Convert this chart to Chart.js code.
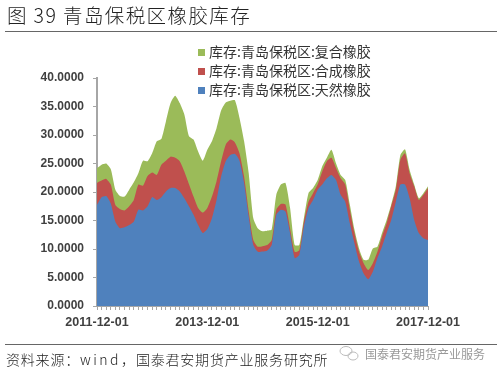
<!DOCTYPE html>
<html lang="zh">

<head>
    <meta charset="UTF-8">
    <title>青岛保税区橡胶库存</title>
    <script src="https://cdn.jsdelivr.net/npm/chart.js"></script>
    <style>
        body {
            margin: 0;
            background: #fff;
            font-family: "Noto Sans CJK SC", sans-serif;
            color: #222;
        }

        #wrap {
            position: relative;
            width: 500px;
            height: 375px;
            overflow: hidden;
        }

        #wrap div {
            position: absolute;
            white-space: nowrap;
        }

        #title {
            left: 7px;
            top: 1px;
            font-size: 19.5px;
            line-height: 28px;
            font-weight: 300;
            letter-spacing: 1.4px;
        }

        .rule {
            left: 5px;
            width: 492px;
            height: 1px;
            background: #666;
        }

        .legend {
            left: 198px;
            font-size: 14px;
            line-height: 19px;
            color: #333;
        }

        .legend span {
            display: inline-block;
            width: 7px;
            height: 7px;
            margin-right: 4px;
            vertical-align: 1px;
        }

        #source {
            left: 6px;
            top: 349px;
            font-size: 14px;
            line-height: 20px;
            font-weight: 300;
            letter-spacing: 0.8px;
        }

        #source span {
            letter-spacing: 2.5px;
        }

        #mark {
            left: 365px;
            top: 345px;
            font-size: 12px;
            line-height: 18px;
            color: #999;
        }

        canvas,
        svg {
            position: absolute;
            left: 0;
            top: 0;
        }
    </style>
</head>

<body>
    <div id="wrap">
        <canvas id="chart" width="500" height="375"></canvas>
        <svg width="500" height="375" fill="none" stroke="#bbb">
            <ellipse cx="346" cy="351" rx="6" ry="4.5"></ellipse>
            <ellipse cx="353" cy="356" rx="5" ry="4"></ellipse>
        </svg>
        <div id="title">图 39 青岛保税区橡胶库存</div>
        <div class="rule" style="top:31px"></div>
        <div class="rule" style="top:344px"></div>
        <div class="legend" style="top:42px"><span style="background:#9bbb59"></span>库存:青岛保税区:复合橡胶</div>
        <div class="legend" style="top:61px"><span style="background:#c0504d"></span>库存:青岛保税区:合成橡胶</div>
        <div class="legend" style="top:80px"><span style="background:#4f81bd"></span>库存:青岛保税区:天然橡胶</div>
        <div id="source">资料来源&#xFF1A;<span>wind</span>&#xFF0C;国泰君安期货产业服务研究所</div>
        <div id="mark">国泰君安期货产业服务</div>
    </div>

    <script>
        const tickLabels = ['2011-12-01', '2013-12-01', '2015-12-01', '2017-12-01'];

        const tianran = [
            17.75, 19.1, 19.3, 18.0, 14.8, 13.65, 13.8, 14.2, 14.8, 16.9, 16.75, 17.5,
            19.1, 18.6, 19.1, 20.1, 20.7, 20.7, 20.1, 18.9, 17.5, 16.0, 14.2, 12.8,
            13.5, 15.4, 18.6, 22.7, 25.4, 26.5, 26.7, 25.5, 21.6, 15.7, 10.7, 9.5,
            9.55, 9.7, 10.7, 16.0, 16.9, 16.6, 12.8, 8.4, 9.0, 13.9, 17.2, 18.6,
            20.4, 21.3, 22.4, 23.0, 22.1, 19.5, 18.3, 14.5, 11.0, 7.8, 5.7, 4.7,
            6.0, 8.4, 10.4, 12.8, 15.1, 18.3, 21.3, 21.3, 18.9, 15.1, 12.8, 11.9, 11.6
        ];
        const hecheng = [
            3.85, 2.9, 3.0, 3.3, 2.9, 3.35, 2.95, 3.3, 3.8, 4.4, 4.35, 5.3,
            4.3, 4.4, 5.7, 5.4, 5.5, 5.3, 5.3, 4.7, 3.9, 3.2, 3.0, 3.6,
            3.7, 3.8, 3.3, 2.7, 2.9, 2.7, 2.0, 1.3, 1.1, 0.9, 0.9, 0.9,
            0.95, 1.0, 0.9, 0.9, 1.0, 1.2, 0.8, 1.1, 0.8, 0.9, 1.1, 1.2,
            0.9, 2.3, 3.0, 3.0, 2.1, 2.9, 3.0, 2.4, 1.8, 1.7, 1.8, 1.6,
            1.5, 1.1, 1.8, 1.7, 2.4, 2.1, 4.4, 5.5, 4.4, 5.9, 5.8, 7.6, 9.1
        ];
        const fuhe = [
            2.6, 2.8, 2.7, 2.7, 2.7, 2.3, 2.45, 2.9, 3.1, 2.0, 4.4, 2.6,
            3.4, 5.9, 4.5, 6.9, 9.4, 10.9, 10.2, 10.0, 8.4, 10.0, 9.9, 9.1,
            10.2, 9.7, 9.3, 8.9, 7.4, 6.8, 7.4, 6.2, 6.2, 6.7, 3.8, 3.2,
            2.6, 2.5, 1.8, 2.6, 3.4, 3.8, 3.6, 1.2, 0.9, 0.6, 1.5, 0.9,
            0.8, 0.9, 0.6, 1.4, 0.8, 0.6, 0.8, 0.9, 0.6, 0.6, 0.6, 1.8,
            2.6, 0.9, 0.6, 0.6, 0.3, 0.6, 0.8, 0.7, 0.6, 0.3, 0.3, 0.3, 0.3
        ];

        // monthly axis, only every 24th month gets a label
        const categories = [];
        for (let i = 0; i < tianran.length; i++) {
            const m = (i + 11) % 12 + 1;
            const y = 2011 + Math.floor((i + 11) / 12);
            categories.push(y + '-' + String(m).padStart(2, '0') + '-01');
        }

        function area(label, data, color) {
            return {
                label: label,
                data: data,
                backgroundColor: color,
                borderWidth: 0,
                pointRadius: 0,
                tension: 0.2,
                fill: true
            };
        }

        new Chart(document.getElementById('chart'), {
            type: 'line',
            data: {
                labels: categories,
                datasets: [
                    area('库存:青岛保税区:天然橡胶', tianran, '#4f81bd'),
                    area('库存:青岛保税区:合成橡胶', hecheng, '#c0504d'),
                    area('库存:青岛保税区:复合橡胶', fuhe, '#9bbb59')
                ]
            },
            options: {
                responsive: false,
                animation: false,
                layout: { padding: { top: 78, right: 72, bottom: 43, left: 0 } },
                plugins: { legend: { display: false }, tooltip: { enabled: false } },
                scales: {
                    x: {
                        offset: false,
                        grid: { drawOnChartArea: false, tickLength: 4, color: '#a6a6a6' },
                        border: { color: '#a6a6a6', width: 1 },
                        ticks: {
                            autoSkip: false,
                            maxRotation: 0,
                            padding: 5,
                            color: '#404040',
                            font: { family: 'Liberation Sans', size: 12.5, weight: 'bold' },
                            callback: function (value, index) {
                                return index % 24 === 0 ? tickLabels[index / 24] : '';
                            }
                        },
                        afterFit: function (scale) { scale.height = 26; }
                    },
                    y: {
                        stacked: true,
                        min: 0,
                        max: 40,
                        grid: { drawOnChartArea: false, tickLength: 4, color: '#a6a6a6' },
                        border: { color: '#a6a6a6', width: 2 },
                        ticks: {
                            stepSize: 5,
                            padding: 9,
                            color: '#404040',
                            font: { family: 'Liberation Sans', size: 12, weight: 'bold' },
                            callback: function (value) { return value.toFixed(4); }
                        },
                        afterFit: function (scale) { scale.width = 97; }
                    }
                }
            }
        });
    </script>
</body>

</html>
